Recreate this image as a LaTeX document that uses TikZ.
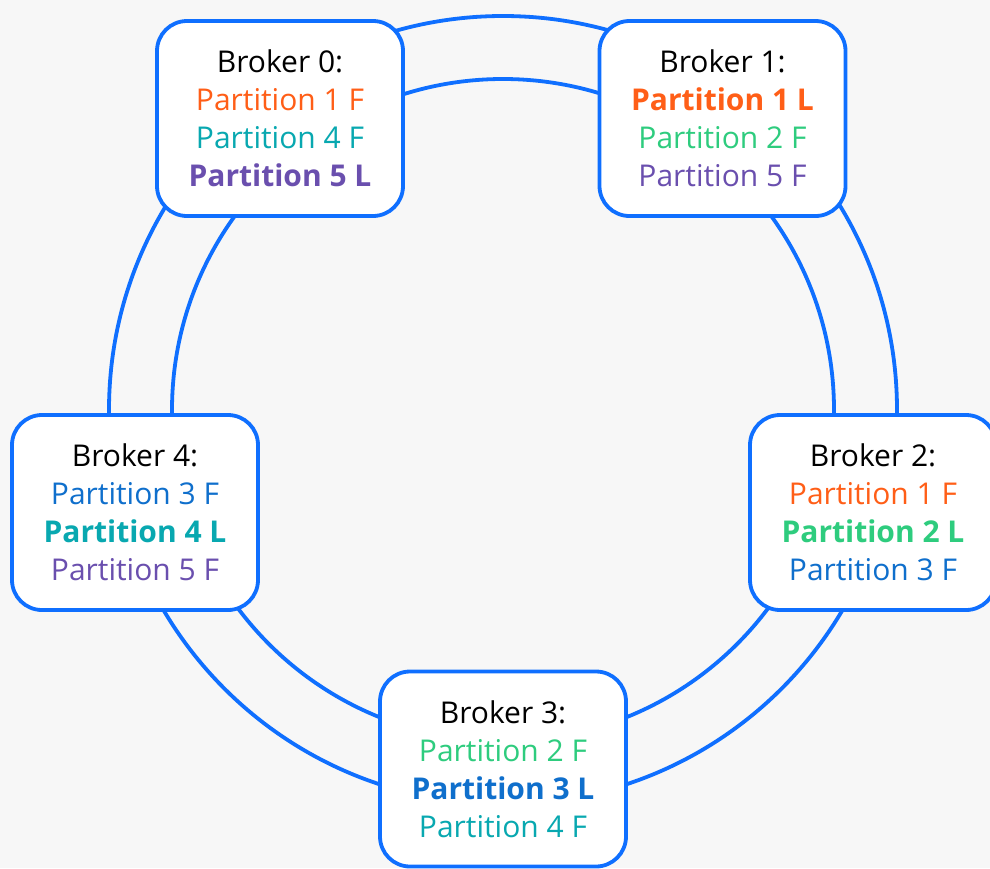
\documentclass[tikz,border=0pt]{standalone}
\usepackage{fontspec}
\setmainfont{Open Sans}
\definecolor{bgcol}{HTML}{F7F7F7}
\definecolor{ringblue}{HTML}{0F6FFF}
\definecolor{porange}{HTML}{FF5E17}
\definecolor{pteal}{HTML}{08A8B0}
\definecolor{ppurple}{HTML}{6A4FAE}
\definecolor{pgreen}{HTML}{2ECC7E}
\definecolor{pblue}{HTML}{0F6FCC}
\tikzset{
  ring/.style={draw=ringblue, line width=3.8pt},
  broker/.style={draw=ringblue, line width=3.8pt, fill=white, rounded corners=30pt,
    minimum width=246pt, minimum height=195pt, inner sep=0pt, align=center,
    font=\fontsize{30}{38}\selectfont}
}
\newcommand{\pf}[2]{\textcolor{#1}{Partition #2 F}}
\newcommand{\pl}[2]{\textcolor{#1}{\textbf{Partition #2 L}}}
\begin{document}
\begin{tikzpicture}[x=1pt,y=-1pt]
  \fill[bgcol] (0,0) rectangle (990,868);
  \useasboundingbox (0,0) rectangle (990,868);
  \clip (0,0) rectangle (990,868);
  % replication ring
  \coordinate (ctr) at (503,410);
  \draw[ring] (ctr) circle[radius=394pt];
  \draw[ring] (ctr) circle[radius=331pt];
  % brokers
  \node[broker] (b0) at (280,118.5) {Broker 0:\\ \pf{porange}{1}\\ \pf{pteal}{4}\\ \pl{ppurple}{5}};
  \node[broker] (b1) at (722.5,118.5) {Broker 1:\\ \pl{porange}{1}\\ \pf{pgreen}{2}\\ \pf{ppurple}{5}};
  \node[broker] (b2) at (873,512.5) {Broker 2:\\ \pf{porange}{1}\\ \pl{pgreen}{2}\\ \pf{pblue}{3}};
  \node[broker] (b3) at (503,769) {Broker 3:\\ \pf{pgreen}{2}\\ \pl{pblue}{3}\\ \pf{pteal}{4}};
  \node[broker] (b4) at (135,512.5) {Broker 4:\\ \pf{pblue}{3}\\ \pl{pteal}{4}\\ \pf{ppurple}{5}};
\end{tikzpicture}
\end{document}
